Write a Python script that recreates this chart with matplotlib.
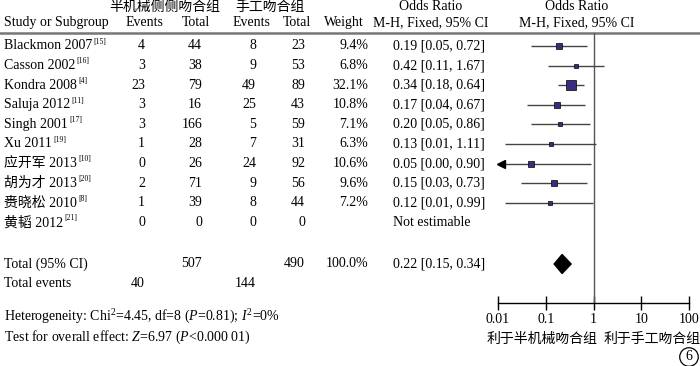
import numpy as np
import matplotlib
matplotlib.use("Agg")
import matplotlib.pyplot as plt
from matplotlib.patches import Polygon

plt.rcParams['font.family'] = ['Liberation Serif', 'Noto Sans CJK SC']
plt.rcParams['mathtext.fontset'] = 'custom'
plt.rcParams['mathtext.rm'] = 'Liberation Serif'
plt.rcParams['mathtext.it'] = 'Liberation Serif:italic'
plt.rcParams['font.size'] = 10

# data
studies = ["Blackmon 2007", "Casson 2002", "Kondra 2008", "Saluja 2012", "Singh 2001",
           "Xu 2011", "应开军 2013", "胡为才 2013", "赉晓松 2010", "黄韬 2012"]
refs = ["15", "16", "4", "11", "17", "19", "10", "20", "8", "21"]
ev1 = [4, 3, 23, 3, 3, 1, 0, 2, 1, 0]
tot1 = [44, 38, 79, 16, 166, 28, 26, 71, 39, 0]
ev2 = [8, 9, 49, 25, 5, 7, 24, 9, 8, 0]
tot2 = [23, 53, 89, 43, 59, 31, 92, 56, 44, 0]
weight = [9.4, 6.8, 32.1, 10.8, 7.1, 6.3, 10.6, 9.6, 7.2, None]
odds = [0.19, 0.42, 0.34, 0.17, 0.20, 0.13, 0.05, 0.15, 0.12, None]
ci_lo = [0.05, 0.11, 0.18, 0.04, 0.05, 0.014, 0.003, 0.03, 0.014, None]
ci_hi = [0.72, 1.67, 0.64, 0.67, 0.86, 1.11, 0.90, 0.73, 0.99, None]
tot_weight = 100.0
tot_or, tot_lo, tot_hi = 0.22, 0.15, 0.34
group1 = "半机械侧侧吻合组"
group2 = "手工吻合组"
favour1 = "利于半机械吻合组"
favour2 = "利于手工吻合组"
xticks = [0.01, 0.1, 1, 10, 100]
xticklabels = ["0.01", "0.1", "1", "10", "100"]

W, H = 700, 366
fig = plt.figure(figsize=(W / 100, H / 100), dpi=100)

# rows: pixel y = Y0 + DY * row
Y0, DY = 46, 19.6
def px2row(p):
    return (p - Y0) / DY

ax = fig.add_axes([0, 0, 1, 1])
ax.set_xlim(0, W)
ax.set_ylim(px2row(H), px2row(0))
ax.axis('off')

top_px, bot_px = 33, 303
left_px, right_px = 498, 689
fx = fig.add_axes([left_px / W, 1 - bot_px / H, (right_px - left_px) / W, (bot_px - top_px) / H])
fx.set_xscale('log')
fx.set_xlim(0.01, 100)
fx.set_ylim(px2row(bot_px), px2row(top_px))
fx.patch.set_alpha(0)
for s in ['left', 'top', 'right']:
    fx.spines[s].set_visible(False)
fx.spines['bottom'].set_linewidth(1.0)
fx.set_yticks([])
fx.set_xticks(xticks)
fx.set_xticklabels(xticklabels, fontsize=10)
fx.minorticks_off()
fx.tick_params(axis='x', direction='inout', length=10, width=1.0, pad=2)
fx.axvline(1, color='#555555', lw=1.0)

# header
ax.axhline(px2row(top_px), color='#777777', lw=1.8)
hy1, hy2 = px2row(7), px2row(23)
ax.text(165, hy1, group1, ha='center', va='center')
ax.text(270, hy1, group2, ha='center', va='center')
ax.text(4, hy2, "Study or Subgroup", ha='left', va='center')
ax.text(144, hy2, "Events", ha='center', va='center')
ax.text(196, hy2, "Total", ha='center', va='center')
ax.text(251, hy2, "Events", ha='center', va='center')
ax.text(297, hy2, "Total", ha='center', va='center')
ax.text(344, hy2, "Weight", ha='center', va='center')
ax.text(431, hy1, "Odds Ratio", ha='center', va='center')
ax.text(431, hy2, "M-H, Fixed, 95% CI", ha='center', va='center')
ax.text(577, hy1, "Odds Ratio", ha='center', va='center')
ax.text(577, hy2, "M-H, Fixed, 95% CI", ha='center', va='center')

sq_color = '#3b2c80'
for i, name in enumerate(studies):
    t = ax.text(4, i, name, ha='left', va='center')
    ax.annotate("[" + refs[i] + "]", xy=(1, 0.82), xycoords=t, xytext=(1, 0),
                textcoords='offset points', ha='left', va='center', fontsize=5.5)
    ax.text(145, i, str(ev1[i]), ha='right', va='center')
    ax.text(202, i, str(tot1[i]), ha='right', va='center')
    ax.text(256, i, str(ev2[i]), ha='right', va='center')
    ax.text(305, i, str(tot2[i]), ha='right', va='center')
    if odds[i] is None:
        ax.text(393, i, "Not estimable", ha='left', va='center')
        continue
    ax.text(368, i, f"{weight[i]:.1f}%", ha='right', va='center')
    ax.text(393, i, f"{odds[i]:.2f} [{ci_lo[i]:.2f}, {ci_hi[i]:.2f}]", ha='left', va='center')
    lo = max(ci_lo[i], 0.01)
    fx.plot([lo, ci_hi[i]], [i, i], color='#444444', lw=1.0, solid_capstyle='butt')
    if ci_lo[i] < 0.01:
        fx.plot([0.0118], [i], marker='<', color='black', markersize=6, clip_on=False)
    fx.plot([odds[i]], [i], marker='s', markersize=1.2 * np.sqrt(weight[i]),
            mfc=sq_color, mec='black', mew=0.5, zorder=3)

# totals
rt = px2row(264)
re = px2row(284)
ax.text(4, rt, "Total (95% CI)", ha='left', va='center')
ax.text(202, rt, str(sum(tot1)), ha='right', va='center')
ax.text(305, rt, str(sum(tot2)), ha='right', va='center')
ax.text(368, rt, f"{tot_weight:.1f}%", ha='right', va='center')
ax.text(393, rt, f"{tot_or:.2f} [{tot_lo:.2f}, {tot_hi:.2f}]", ha='left', va='center')
hh = 9.5 / DY
fx.add_patch(Polygon([(tot_lo, rt), (tot_or, rt - hh), (tot_hi, rt), (tot_or, rt + hh)],
                     closed=True, fc='black', ec='black', zorder=3))
ax.text(4, re, "Total events", ha='left', va='center')
ax.text(145, re, str(sum(ev1)), ha='right', va='center')
ax.text(256, re, str(sum(ev2)), ha='right', va='center')

ax.text(4, px2row(317), r"Heterogeneity: Chi$^{2}$=4.45, df=8 ($\mathit{P}$=0.81); $\mathit{I}^{2}$=0%",
        ha='left', va='center')
ax.text(4, px2row(337), r"Test for overall effect: $\mathit{Z}$=6.97 ($\mathit{P}$<0.000 01)",
        ha='left', va='center')

ax.text(542.5, px2row(339), favour1, ha='center', va='center')
ax.text(652.5, px2row(339), favour2, ha='center', va='center')
ax.text(689, px2row(357), "6", ha='center', va='center',
        bbox=dict(boxstyle='circle,pad=0.2', fc='none', ec='black', lw=0.9))

fig.savefig("out.png", dpi=100)
